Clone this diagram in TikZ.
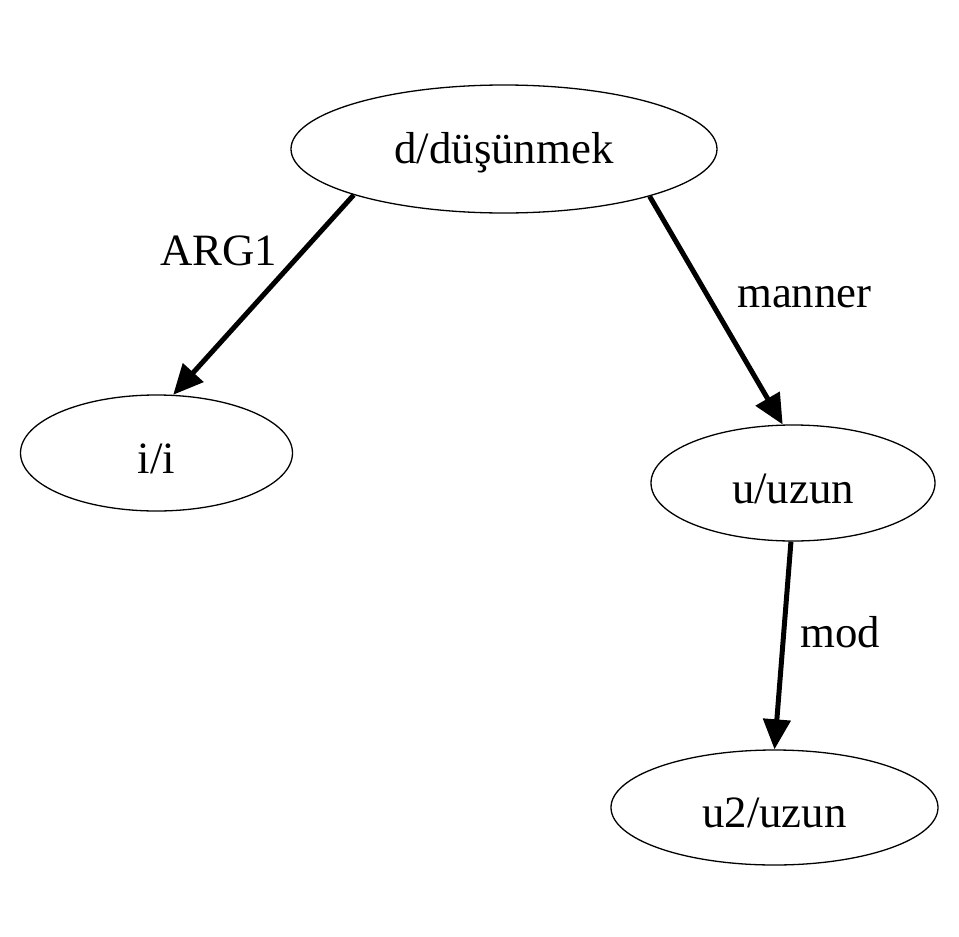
\documentclass[tikz,border=0pt]{standalone}
\usepackage{fontspec}
\setmainfont{Liberation Serif}
\usetikzlibrary{shapes.geometric,arrows.meta}
\tikzset{
  elnode/.style={draw=black, line width=1.3pt, shape=ellipse, inner sep=0pt,
    font=\fontsize{44.8}{54}\selectfont, text depth=0pt},
  edgeline/.style={line width=5pt, -{Triangle[length=30pt,width=27pt]}},
  elabel/.style={font=\fontsize{44.8}{54}\selectfont, inner sep=0pt, anchor=base west}
}
\begin{document}
\begin{tikzpicture}[x=1pt,y=-1pt]
\useasboundingbox (0,0) rectangle (959,937);
\node[elnode, minimum width=426pt, minimum height=128pt, text height=28pt] (d) at (504,149) {d/düşünmek};
\node[elnode, minimum width=272pt, minimum height=116pt, text height=40pt] (i) at (156.5,453) {i/i};
\node[elnode, minimum width=284pt, minimum height=116pt, text height=40pt] (u) at (793,483) {u/uzun};
\node[elnode, minimum width=327pt, minimum height=115pt, text height=39pt] (u2) at (774.5,807.5) {u2/uzun};
\draw[edgeline] (d.197.6) -- (i.74.1);
\draw[edgeline] (d.342.2) -- (u.100.4);
\draw[edgeline] (u.268.6) -- (u2.90);
\node[elabel] (l1) at (160,265) {ARG1};
\node[elabel] (l2) at (737,307) {manner};
\node[elabel] (l3) at (800,647) {mod};
\end{tikzpicture}
\end{document}
